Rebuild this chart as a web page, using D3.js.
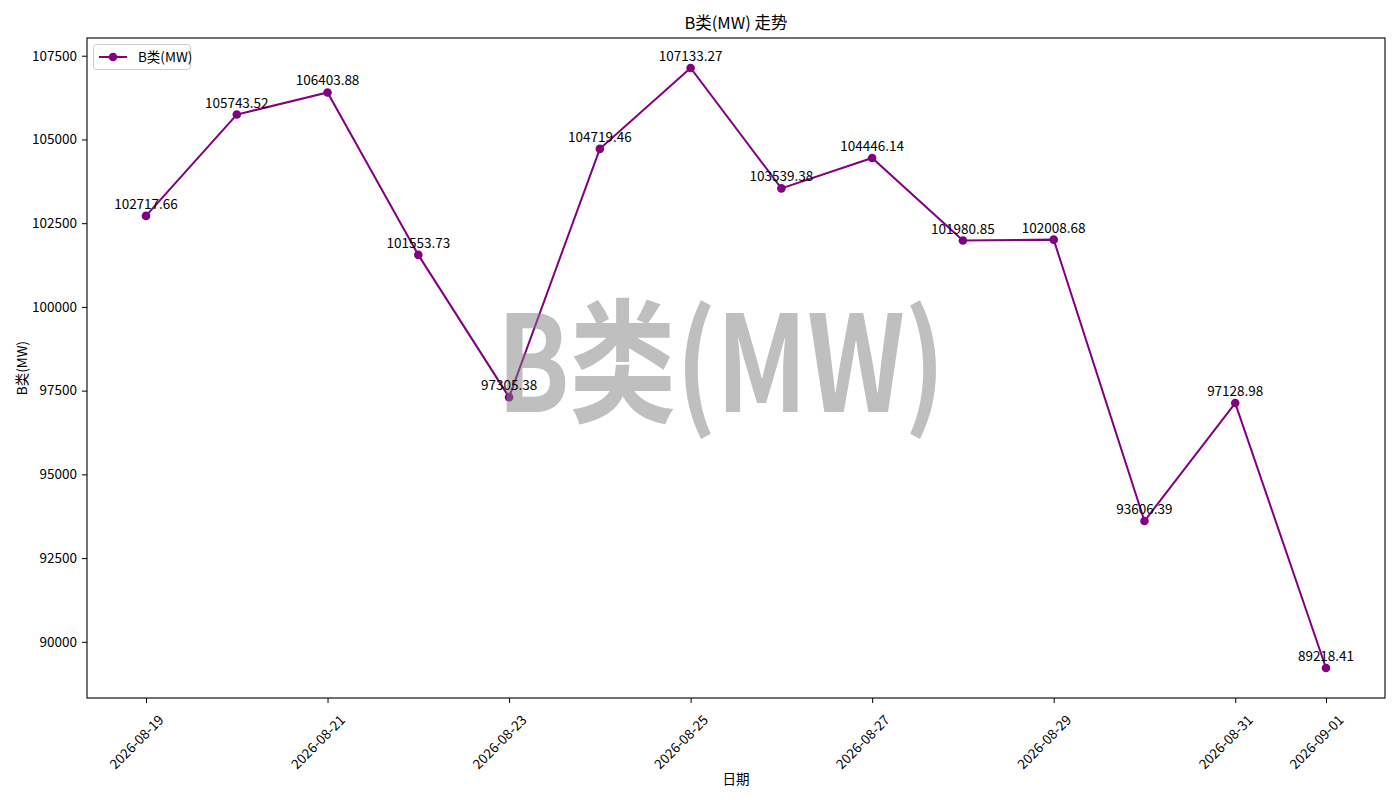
<!DOCTYPE html>
<html>
<head>
<meta charset="utf-8">
<script src="https://cdn.jsdelivr.net/npm/d3@7"></script>
<style>
  body { margin: 0; background: #fff; }
  text { font-family: "Noto Sans CJK SC", "DejaVu Sans", sans-serif; fill: #000; }
</style>
</head>
<body>
<div id="chart"></div>
<script>
// data
const dates = ['2026-08-19', '2026-08-20', '2026-08-21', '2026-08-22', '2026-08-23',
  '2026-08-24', '2026-08-25', '2026-08-26', '2026-08-27', '2026-08-28',
  '2026-08-29', '2026-08-30', '2026-08-31', '2026-09-01'];
const values = [102717.66, 105743.52, 106403.88, 101553.73, 97305.38,
  104719.46, 107133.27, 103539.38, 104446.14, 101980.85,
  102008.68, 93606.39, 97128.98, 89218.41];
const xTicks = ['2026-08-19', '2026-08-21', '2026-08-23', '2026-08-25',
  '2026-08-27', '2026-08-29', '2026-08-31', '2026-09-01'];
const yTicks = [90000, 92500, 95000, 97500, 100000, 102500, 105000, 107500];

const SERIES = 'B类(MW)';
const WIDTH = 1400;
const HEIGHT = 800;
const COLOR = '#800080';
const margin = {top: 38, right: 15, bottom: 102, left: 87};

const parse = d3.utcParse('%Y-%m-%d');
const data = dates.map((d, i) => ({date: parse(d), value: values[i]}));

const svg = d3.select('#chart').append('svg')
  .attr('width', WIDTH)
  .attr('height', HEIGHT);

const x0 = parse(dates[0]);
const x1 = parse(dates[dates.length - 1]);
const xPad = (x1 - x0) * 0.05;
const x = d3.scaleUtc()
  .domain([new Date(+x0 - xPad), new Date(+x1 + xPad)])
  .range([margin.left, WIDTH - margin.right]);

const [vMin, vMax] = d3.extent(values);
const yPad = (vMax - vMin) * 0.05;
const y = d3.scaleLinear()
  .domain([vMin - yPad, vMax + yPad])
  .range([HEIGHT - margin.bottom, margin.top]);

// axes
const xAxis = svg.append('g')
  .attr('transform', `translate(0,${HEIGHT - margin.bottom})`)
  .call(d3.axisBottom(x)
    .tickValues(xTicks.map(parse))
    .tickFormat(d3.utcFormat('%Y-%m-%d'))
    .tickSize(5)
    .tickPadding(0));
xAxis.select('.domain').remove();
xAxis.selectAll('.tick line').attr('stroke', '#000').attr('stroke-width', 1);
xAxis.selectAll('.tick text')
  .attr('font-size', 13.5)
  .attr('text-anchor', 'end')
  .attr('dy', null)
  .attr('y', null)
  .attr('transform', 'translate(18,23) rotate(-45)');

const yAxis = svg.append('g')
  .attr('transform', `translate(${margin.left},0)`)
  .call(d3.axisLeft(y)
    .tickValues(yTicks)
    .tickFormat(d3.format('d'))
    .tickSize(5)
    .tickPadding(5));
yAxis.select('.domain').remove();
yAxis.selectAll('.tick line').attr('stroke', '#000').attr('stroke-width', 1);
yAxis.selectAll('.tick text').attr('font-size', 13.5);

// frame
svg.append('rect')
  .attr('x', margin.left)
  .attr('y', margin.top)
  .attr('width', WIDTH - margin.left - margin.right)
  .attr('height', HEIGHT - margin.top - margin.bottom)
  .attr('fill', 'none')
  .attr('stroke', '#000')
  .attr('stroke-width', 1.1);

// line + markers
const line = d3.line()
  .x(d => x(d.date))
  .y(d => y(d.value));

svg.append('path')
  .datum(data)
  .attr('d', line)
  .attr('fill', 'none')
  .attr('stroke', COLOR)
  .attr('stroke-width', 2);

svg.append('g')
  .selectAll('circle')
  .data(data)
  .enter()
  .append('circle')
  .attr('cx', d => x(d.date))
  .attr('cy', d => y(d.value))
  .attr('r', 4.3)
  .attr('fill', COLOR);

// watermark
const cx = (margin.left + WIDTH - margin.right) / 2;
const cy = (margin.top + HEIGHT - margin.bottom) / 2;
svg.append('text')
  .attr('x', cx - 239)
  .attr('y', cy + 44)
  .attr('font-size', 134)
  .attr('font-weight', 700)
  .attr('textLength', 448)
  .attr('lengthAdjust', 'spacingAndGlyphs')
  .style('fill', '#808080')
  .style('fill-opacity', 0.5)
  .text(SERIES);

// value labels
svg.append('g')
  .selectAll('text')
  .data(data)
  .enter()
  .append('text')
  .attr('x', d => x(d.date))
  .attr('y', d => y(d.value) - 7)
  .attr('text-anchor', 'middle')
  .attr('font-size', 13.5)
  .text(d => d.value.toFixed(2));

// titles
svg.append('text')
  .attr('x', cx)
  .attr('y', 29)
  .attr('text-anchor', 'middle')
  .attr('font-size', 16.5)
  .text(SERIES + ' 走势');

svg.append('text')
  .attr('x', cx)
  .attr('y', 784)
  .attr('text-anchor', 'middle')
  .attr('font-size', 13.5)
  .text('日期');

svg.append('text')
  .attr('transform', `translate(27,${cy}) rotate(-90)`)
  .attr('text-anchor', 'middle')
  .attr('font-size', 13.5)
  .text(SERIES);

// legend
const legend = svg.append('g');
legend.append('rect')
  .attr('x', 93.5)
  .attr('y', 44.5)
  .attr('width', 97)
  .attr('height', 25)
  .attr('rx', 3)
  .attr('fill', '#fff')
  .attr('fill-opacity', 0.8)
  .attr('stroke', '#cccccc');
legend.append('line')
  .attr('x1', 99).attr('x2', 127)
  .attr('y1', 57).attr('y2', 57)
  .attr('stroke', COLOR)
  .attr('stroke-width', 2);
legend.append('circle')
  .attr('cx', 113).attr('cy', 57).attr('r', 4.3)
  .attr('fill', COLOR);
legend.append('text')
  .attr('x', 138)
  .attr('y', 62)
  .attr('font-size', 13.5)
  .text(SERIES);
</script>
</body>
</html>
